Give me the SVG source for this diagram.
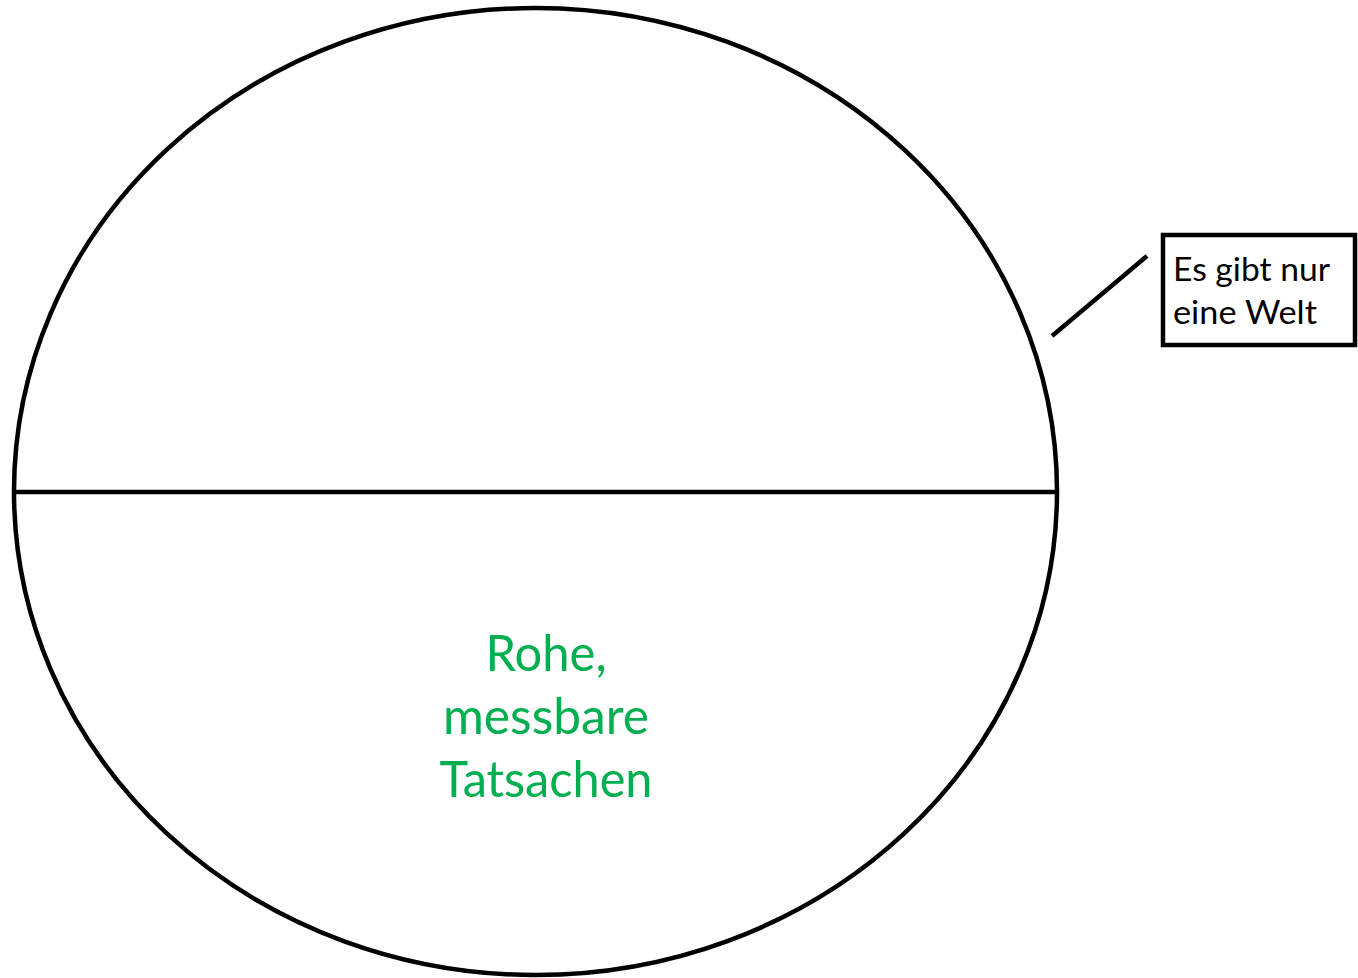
<svg xmlns="http://www.w3.org/2000/svg" width="1358" height="978" viewBox="0 0 1358 978">
<style>
.stk{fill:none;stroke:#000;stroke-width:4.5}
.green{fill:#00B050;font-family:Lato,"Open Sans","Liberation Sans",sans-serif;font-size:50px;text-anchor:middle}
.note{fill:#000;font-family:Lato,"Open Sans","Liberation Sans",sans-serif;font-size:33px}
</style>
<rect width="1358" height="978" fill="#fff"/>
<g id="world">
<ellipse class="stk" cx="535.5" cy="491.5" rx="521.5" ry="483.5"/>
<line class="stk" x1="14" y1="492" x2="1057" y2="492"/>
<text class="green" x="546" y="671" textLength="121" lengthAdjust="spacingAndGlyphs">Rohe,</text>
<text class="green" x="546" y="734" textLength="206" lengthAdjust="spacingAndGlyphs">messbare</text>
<text class="green" x="546" y="797" textLength="213" lengthAdjust="spacingAndGlyphs">Tatsachen</text>
</g>
<g id="connectors">
<line class="stk" x1="1052" y1="336" x2="1147" y2="256"/>
</g>
<g id="note">
<rect class="stk" x="1163" y="235" width="192" height="110"/>
<text class="note" x="1173" y="281" textLength="157" lengthAdjust="spacingAndGlyphs">Es gibt nur</text>
<text class="note" x="1173" y="324" textLength="144" lengthAdjust="spacingAndGlyphs">eine Welt</text>
</g>
</svg>
